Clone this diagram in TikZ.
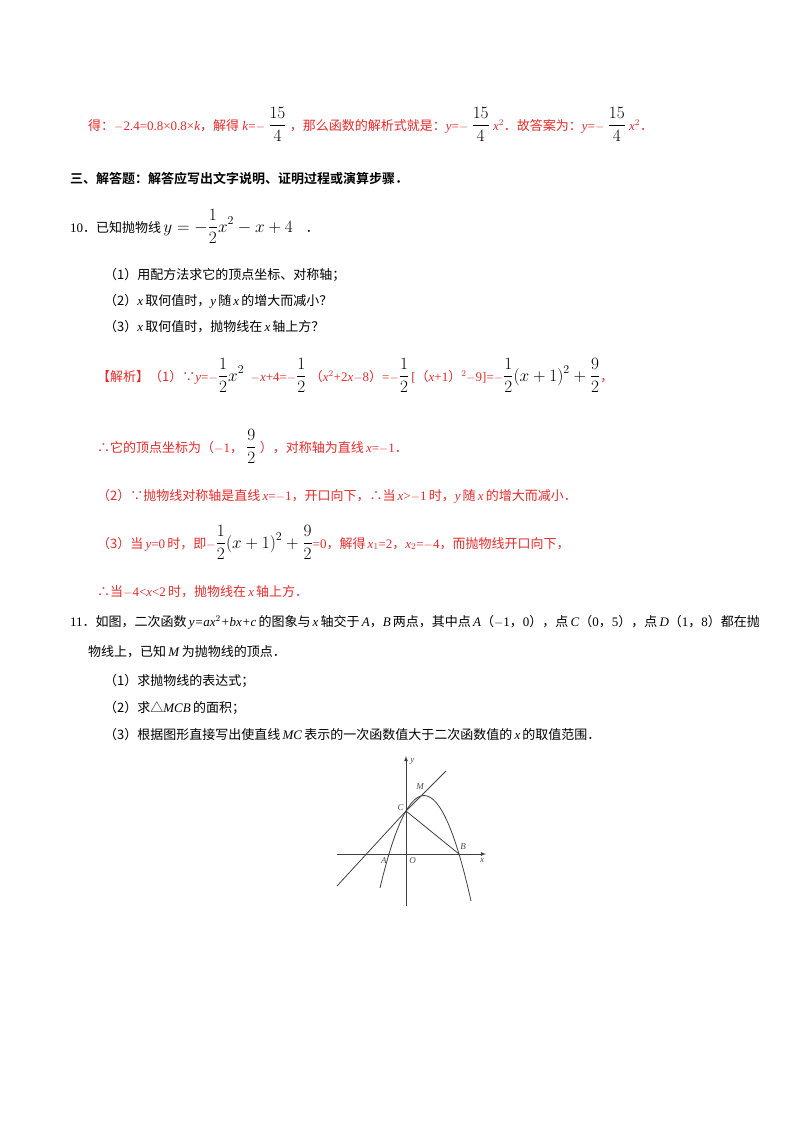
\documentclass[tikz,border=0pt]{standalone}
\usepackage{amsmath}
\usepackage{fontspec}
\setmainfont{Liberation Serif}
\newfontfamily\cjk{Noto Sans CJK SC}
\newfontfamily\cjkb{Noto Sans CJK SC Bold}
\newcommand{\zh}[1]{{\cjk #1}}
\newcommand{\bfr}[1]{{\fontsize{17}{20}\selectfont\color{black}$\displaystyle #1$}}
\definecolor{ans}{RGB}{235,40,40}
\begin{document}
\begin{tikzpicture}[x=1pt,y=-1pt,
  t/.style={anchor=base west,inner sep=0pt,font=\fontsize{13}{15}\selectfont},
  r/.style={t,text=ans},
  lbl/.style={inner sep=1pt,font=\fontsize{9}{10}\selectfont\itshape,text=black!70}]
\useasboundingbox (0,0) rectangle (800,1132);
\node[r] (l1) at (88,130) {\zh{得：}$-$2.4=0.8×0.8×\textit{k}\zh{，解得} \textit{k}=$-$\ \bfr{\frac{15}{4}}\ \zh{，那么函数的解析式就是：}\textit{y}=$-$\ \bfr{\frac{15}{4}}\ \textit{x}$^2$\zh{．故答案为：}\textit{y}=$-$\ \bfr{\frac{15}{4}}\ \textit{x}$^2$\zh{．}};
\node[t] (h3) at (70,183) {\cjkb 三、解答题：解答应写出文字说明、证明过程或演算步骤．};
\node[t] (q10) at (70,232) {10\zh{．已知抛物线}\,\bfr{y=-\frac{1}{2}x^2-x+4}\quad\zh{．}};
\node[t] (q10a) at (104,279) {\zh{（1）用配方法求它的顶点坐标、对称轴；}};
\node[t] (q10b) at (104,305) {\zh{（2）}\textit{x}\,\zh{取何值时，}\textit{y}\,\zh{随}\,\textit{x}\,\zh{的增大而减小？}};
\node[t] (q10c) at (104,331) {\zh{（3）}\textit{x}\,\zh{取何值时，抛物线在}\,\textit{x}\,\zh{轴上方？}};
\node[r] (s1) at (97,381) {\zh{【解析】（1）∵}\textit{y}=$-$\bfr{\frac{1}{2}x^2}\ \ $-$\textit{x}+4=$-$\bfr{\frac{1}{2}}\ \zh{（}\textit{x}$^2$+2\textit{x}$-$8\zh{）}=$-$\bfr{\frac{1}{2}}\,[\zh{（}\textit{x}+1\zh{）}$^2-$9]=$-$\bfr{\frac{1}{2}(x+1)^2+\frac{9}{2}}\zh{，}};
\node[r] (s2) at (97,452) {\zh{∴它的顶点坐标为（}$-$1\zh{，}\ \bfr{\frac{9}{2}}\ \zh{），对称轴为直线}\,\textit{x}=$-$1\zh{．}};
\node[r] (s3) at (97,500) {\zh{（2）∵抛物线对称轴是直线}\,\textit{x}=$-$1\zh{，开口向下，∴当}\,\textit{x}>$-$1\,\zh{时，}\textit{y}\,\zh{随}\,\textit{x}\,\zh{的增大而减小．}};
\node[r] (s4) at (97,548) {\zh{（3）当}\,\textit{y}=0\,\zh{时，即}$-$\bfr{\frac{1}{2}(x+1)^2+\frac{9}{2}}=0\zh{，解得}\,\textit{x}$_1$=2\zh{，}\textit{x}$_2$=$-$4\zh{，而抛物线开口向下，}};
\node[r] (s5) at (97,596) {\zh{∴当}$-$4<\textit{x}<2\,\zh{时，抛物线在}\,\textit{x}\,\zh{轴上方．}};
\node[t] (q11) at (70,626) {11\zh{．如图，二次函数}\,\textit{y=ax}$^2$\textit{+bx+c}\,\zh{的图象与}\,\textit{x}\,\zh{轴交于}\,\textit{A}\zh{，}\textit{B}\,\zh{两点，其中点}\,\textit{A}\zh{（}$-$1\zh{，}0\zh{），点}\,\textit{C}\zh{（}0\zh{，}5\zh{），点}\,\textit{D}\zh{（}1\zh{，}8\zh{）都在抛}};
\node[t] (q11b) at (88,656) {\zh{物线上，已知}\,\textit{M}\,\zh{为抛物线的顶点．}};
\node[t] (q11c) at (104,685) {\zh{（1）求抛物线的表达式；}};
\node[t] (q11d) at (104,712) {\zh{（2）求△}\textit{MCB}\,\zh{的面积；}};
\node[t] (q11e) at (104,739) {\zh{（3）根据图形直接写出使直线}\,\textit{MC}\,\zh{表示的一次函数值大于二次函数值的}\,\textit{x}\,\zh{的取值范围．}};
% figure
\begin{scope}[line width=0.8pt,draw=black!75]
\coordinate (O) at (406,854);
\coordinate (A) at (389,854);
\coordinate (B) at (459,854);
\coordinate (C) at (406,811);
\coordinate (M) at (424,795.5);
\coordinate (xs) at (337,854); \coordinate (xe) at (486,854);
\coordinate (ys) at (406,906); \coordinate (ye) at (406,756);
\coordinate (l1s) at (337,886); \coordinate (l1e) at (446,771);
\draw[-latex] (xs) -- (xe);
\draw[-latex] (ys) -- (ye);
\draw[domain=380:471,samples=60,smooth] plot (\x,{854-0.0477*(\x-389)*(459-\x)});
\draw (l1s) -- (C) -- (l1e);
\draw (C) -- (B);
\node[lbl,anchor=west] (ly) at (409,761) {y};
\node[lbl,anchor=north] (lx) at (482,857) {x};
\node[lbl,anchor=north east] (lA) at (388,856) {A};
\node[lbl,anchor=north west] (lO) at (408,856) {O};
\node[lbl,anchor=south west] (lB) at (459,851) {B};
\node[lbl,anchor=east] (lC) at (405,808) {C};
\node[lbl,anchor=south] (lM) at (420,791) {M};
\end{scope}
\end{tikzpicture}
\end{document}
